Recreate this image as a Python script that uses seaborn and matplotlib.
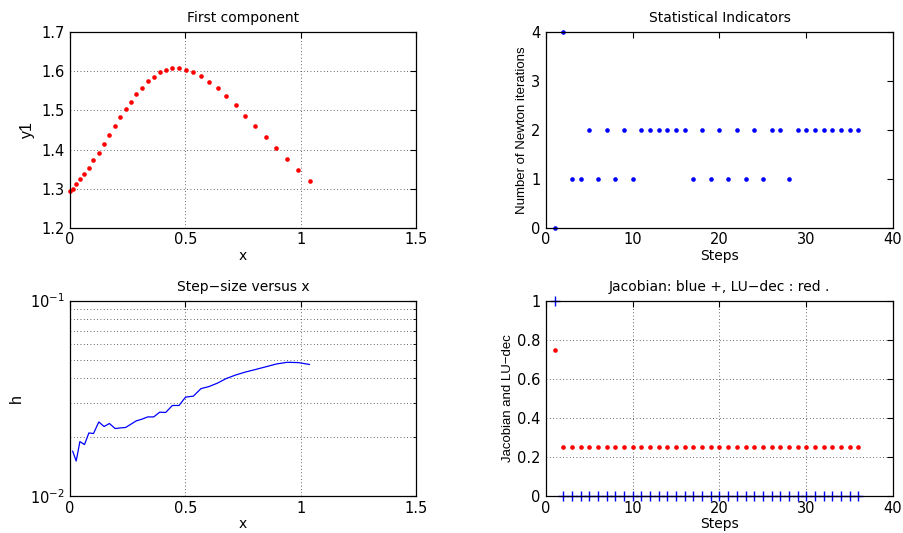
import matplotlib
matplotlib.use("Agg")
import matplotlib.pyplot as plt
import matplotlib.ticker as mticker
import seaborn as sns

# first component y1 against x (one point per accepted step)
x_vals = [0.000, 0.0115, 0.027, 0.043, 0.063, 0.082, 0.102, 0.125, 0.148, 0.171,
          0.196, 0.218, 0.241, 0.264, 0.287, 0.311, 0.337, 0.363, 0.389, 0.415,
          0.444, 0.473, 0.501, 0.535, 0.568, 0.602, 0.640, 0.677, 0.718, 0.761,
          0.804, 0.849, 0.895, 0.942, 0.990, 1.039]
y1_vals = [1.294, 1.300, 1.312, 1.324, 1.339, 1.354, 1.374, 1.392, 1.415, 1.438,
           1.460, 1.482, 1.503, 1.522, 1.541, 1.558, 1.574, 1.586, 1.597, 1.603,
           1.607, 1.607, 1.604, 1.597, 1.587, 1.573, 1.556, 1.536, 1.513, 1.487,
           1.460, 1.433, 1.405, 1.376, 1.347, 1.319]

# step size h, drawn against x from the second point on
h_vals = [0.01706, 0.01517, 0.01906, 0.01840, 0.02110, 0.02095, 0.02401, 0.02275,
          0.02357, 0.02222, 0.02238, 0.02249, 0.02337, 0.02430, 0.02478, 0.02547,
          0.02547, 0.02692, 0.02684, 0.02913, 0.02913, 0.03214, 0.03251, 0.03551,
          0.03636, 0.03790, 0.03996, 0.04166, 0.04316, 0.04445, 0.04589, 0.04743,
          0.04839, 0.04822, 0.04715]

steps = list(range(1, 37))
newton_iters = [0, 4, 1, 1, 2, 1, 2, 1, 2, 1, 2, 2, 2, 2, 2, 2, 1, 2, 1, 2,
                1, 2, 1, 2, 1, 2, 2, 1, 2, 2, 2, 2, 2, 2, 2, 2]
jacobian = [1] + [0] * 35
lu_dec = [0.75] + [0.25] * 35

sns.set_style("white")
plt.rcParams.update({
    "font.family": ["DejaVu Sans"],
    "font.size": 10,
    "text.color": "black",
    "axes.labelcolor": "black",
    "axes.titlecolor": "black",
    "axes.linewidth": 0.9,
    "axes.edgecolor": "black",
    "xtick.direction": "in",
    "ytick.direction": "in",
    "xtick.top": True,
    "ytick.right": True,
    "xtick.major.size": 4,
    "ytick.major.size": 4,
    "xtick.minor.size": 2,
    "ytick.minor.size": 2,
    "xtick.major.pad": 3,
    "ytick.major.pad": 4,
    "xtick.color": "black",
    "ytick.color": "black",
    "xtick.labelsize": 10.5,
    "ytick.labelsize": 10.5,
})

grid_kw = dict(linestyle=(0, (1, 3)), color="#333333", linewidth=0.6)
long_lab = dict(family=["Liberation Sans"], size=9.5)
short_lab = dict(family=["Liberation Sans"], size=11.5)

fig = plt.figure(figsize=(9.04, 5.33), dpi=100)
ax1 = fig.add_axes([0.0774, 0.5722, 0.3827, 0.3677])
ax2 = fig.add_axes([0.6040, 0.5722, 0.3838, 0.3677])
ax3 = fig.add_axes([0.0774, 0.0685, 0.3827, 0.3677])
ax4 = fig.add_axes([0.6040, 0.0685, 0.3838, 0.3677])

# top left
sns.scatterplot(x=x_vals, y=y1_vals, ax=ax1, color="red", marker="o", s=11,
                linewidth=0, clip_on=False)
ax1.set_xlim(0, 1.5)
ax1.set_ylim(1.2, 1.7)
ax1.set_xticks([0, 0.5, 1, 1.5])
ax1.set_xticklabels(["0", "0.5", "1", "1.5"])
ax1.set_yticks([1.2, 1.3, 1.4, 1.5, 1.6, 1.7])
ax1.grid(True, **grid_kw)
ax1.set_title("First component", fontsize=10, pad=7)
ax1.set_xlabel("x", labelpad=1)
ax1.set_ylabel("y1", **short_lab)

# top right
sns.scatterplot(x=steps, y=newton_iters, ax=ax2, color="blue", marker="o", s=11,
                linewidth=0, clip_on=False)
ax2.set_xlim(0, 40)
ax2.set_ylim(0, 4)
ax2.set_xticks([0, 10, 20, 30, 40])
ax2.set_yticks([0, 1, 2, 3, 4])
ax2.set_title("Statistical Indicators", fontsize=10, pad=7)
ax2.set_xlabel("Steps", labelpad=1)
ax2.set_ylabel("Number of Newton iterations", labelpad=2, **long_lab)

# bottom left
sns.lineplot(x=x_vals[1:], y=h_vals, ax=ax3, color="blue", linewidth=0.9,
             estimator=None, sort=False)
ax3.set_yscale("log")
ax3.set_xlim(0, 1.5)
ax3.set_ylim(1e-2, 1e-1)
ax3.set_xticks([0, 0.5, 1, 1.5])
ax3.set_xticklabels(["0", "0.5", "1", "1.5"])
ax3.yaxis.set_minor_locator(mticker.LogLocator(base=10, subs=range(2, 10)))
ax3.yaxis.set_minor_formatter(mticker.NullFormatter())
ax3.grid(True, which="major", axis="x", **grid_kw)
ax3.grid(True, which="minor", axis="y", **grid_kw)
ax3.set_title("Step\u2212size versus x", fontsize=10, pad=7)
ax3.set_xlabel("x", labelpad=1)
ax3.set_ylabel("h", **short_lab)

# bottom right
sns.scatterplot(x=steps, y=jacobian, ax=ax4, color="blue", marker="+", s=45,
                linewidth=1, clip_on=False, zorder=3)
sns.scatterplot(x=steps, y=lu_dec, ax=ax4, color="red", marker="o", s=11,
                linewidth=0, clip_on=False, zorder=3)
ax4.set_xlim(0, 40)
ax4.set_ylim(0, 1)
ax4.set_xticks([0, 10, 20, 30, 40])
ax4.set_yticks([0, 0.2, 0.4, 0.6, 0.8, 1])
ax4.set_yticklabels(["0", "0.2", "0.4", "0.6", "0.8", "1"])
ax4.grid(True, **grid_kw)
ax4.set_title("Jacobian: blue +, LU\u2212dec : red .", fontsize=10, pad=7)
ax4.set_xlabel("Steps", labelpad=1)
ax4.set_ylabel("Jacobian and LU\u2212dec", labelpad=2, **long_lab)

for ax in (ax1, ax2, ax3, ax4):
    for sp in ax.spines.values():
        sp.set_zorder(4)

fig.savefig("out.png", dpi=100)
